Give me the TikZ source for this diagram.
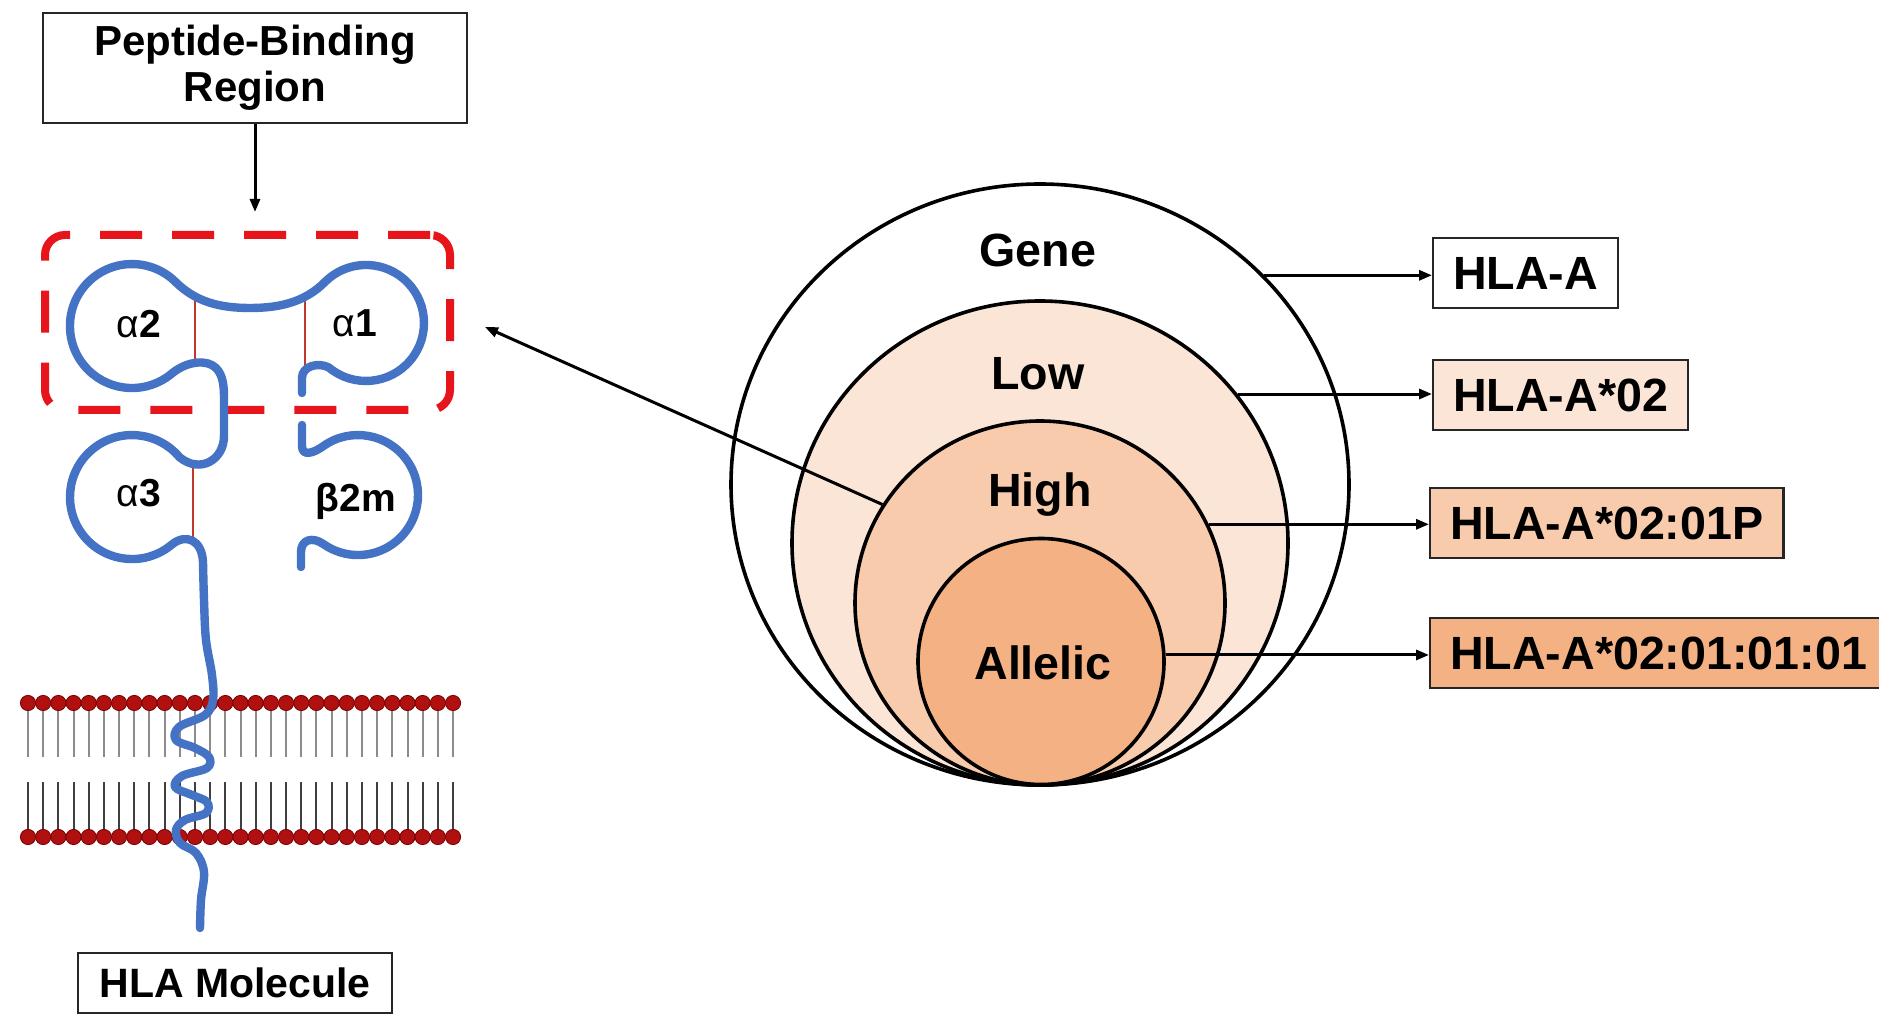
\documentclass[tikz,border=0pt]{standalone}
\usepackage{fontspec}
\setmainfont{Liberation Sans}
\usetikzlibrary{shapes.geometric,arrows.meta}

\definecolor{chainblue}{HTML}{4472C4}
\definecolor{framered}{HTML}{E8141C}
\definecolor{bondred}{HTML}{C0392B}
\definecolor{headred}{HTML}{B01010}
\definecolor{headedge}{HTML}{7A0000}
\definecolor{lowfill}{HTML}{FBE5D6}
\definecolor{highfill}{HTML}{F8CBAD}
\definecolor{allelefill}{HTML}{F4B183}

\begin{document}
\begin{tikzpicture}[x=0.5pt,y=-0.5pt,
  backbone/.style={draw=chainblue,line width=4.2pt,line cap=round,line join=round},
  ssbond/.style={draw=bondred,line width=0.9pt},
  bindframe/.style={draw=framered,line width=4pt,dash pattern=on 21pt off 15pt,rounded corners=10pt,inner sep=0pt},
  lipidtail/.style={line width=1pt},
  lipidhead/.style={fill=headred,draw=headedge,line width=0.4pt},
  tier/.style={ellipse,draw=black,line width=1.8pt,inner sep=0pt},
  tiertext/.style={anchor=base,font=\bfseries\fontsize{23.3}{28}\selectfont},
  allelebox/.style={draw=black!85,line width=1.1pt,anchor=west,minimum height=35pt,inner xsep=10pt,inner ysep=0pt,font=\bfseries\fontsize{23.3}{28}\selectfont},
  titlebox/.style={draw=black!85,line width=1pt,inner sep=0pt,align=center,font=\bfseries\fontsize{21}{23}\selectfont},
  domlabel/.style={anchor=base,font=\bfseries\fontsize{19.5}{22}\selectfont},
  pointer/.style={draw=black,line width=1.5pt,-{Triangle[length=6.5pt,width=5pt]}}
]
\useasboundingbox (0,0) rectangle (1879,1015);
\fill[white] (0,0) rectangle (1879,1015);

% ---------- nested resolution levels ----------
\node[tier,fill=white,minimum width=309pt,minimum height=300.5pt] (gene) at (1040,484.5) {};
\node[tier,fill=lowfill,minimum width=248pt,minimum height=242pt] (low) at (1040,543) {};
\node[tier,fill=highfill,minimum width=185pt,minimum height=182pt] (high) at (1040,603) {};
\node[tier,fill=allelefill,minimum width=123pt,minimum height=123pt] (allelic) at (1041,661.5) {};

\node[tiertext] (genetxt) at (1038,267) {Gene};
\node[tiertext] (lowtxt) at (1038,390) {Low};
\node[tiertext] (hightxt) at (1040,507) {High};
\node[tiertext] (alleletxt) at (1043,679) {Allelic};

% ---------- nomenclature examples ----------
\node[allelebox,fill=white] (hlaA) at (1432,273) {HLA-A};
\node[allelebox,fill=lowfill] (hlaLow) at (1432,395) {HLA-A*02};
\node[allelebox,fill=highfill] (hlaHigh) at (1429,523) {HLA-A*02:01P};
\node[allelebox,fill=allelefill] (hlaAllelic) at (1429,653) {HLA-A*02:01:01:01};

\draw[pointer] (gene.43.6) -- (gene.43.6 -| hlaA.west);
\draw[pointer] (low.37) -- (low.37 -| hlaLow.west);
\draw[pointer] (high.25) -- (high.25 -| hlaHigh.west);
\draw[pointer] (allelic.3.5) -- (allelic.3.5 -| hlaAllelic.west);

% ---------- HLA molecule ----------
\node[titlebox,minimum width=212pt,minimum height=55pt] (pbrlabel) at (255,68) {Peptide-Binding\\Region};
\coordinate (pbrtop) at (255,212);
\draw[pointer] (pbrlabel.south) -- (pbrtop);

% lipid bilayer
\foreach \i in {0,...,28}{
  \draw[lipidtail,black!45] ({28+15.18*\i},703) -- ({28+15.18*\i},757);
  \draw[lipidtail,black!75] ({28+15.18*\i},782) -- ({28+15.18*\i},837);
}
\foreach \i in {0,...,28}{
  \path[lipidhead] ({28+15.18*\i},703) circle[radius=7.6];
  \path[lipidhead] ({28+15.18*\i},837) circle[radius=7.6];
}

% peptide-binding region outline
\node[bindframe,minimum width=202.5pt,minimum height=87.5pt] (pbr) at (247.5,322.5) {};

% disulfide bonds
\draw[ssbond] (195,298) -- (195,364);
\draw[ssbond] (305,297) -- (305,367);
\draw[ssbond] (193,468) -- (193,537);

% heavy chain: alpha1 -> alpha2 -> alpha3 -> transmembrane tail
\draw[backbone] (302,393) -- (302,378) .. controls (302,366) and (318,362) .. (328.7,367.4)
  arc[start angle=130,end angle=-135,radius=58]
  .. controls (305,302) and (280,308) .. (250,308)
  .. controls (220,308) and (196,302) .. (175.8,282.2)
  arc[start angle=-45,end angle=-310,radius=62]
  .. controls (187,361) and (207,359) .. (216,368)
  .. controls (223,375) and (224,386) .. (224,398) -- (224,436)
  .. controls (224,460) and (200,474) .. (179.5,457.2)
  arc[start angle=-40,end angle=-310,radius=62]
  .. controls (186,533) and (202,540) .. (203,562)
  -- plot[smooth,tension=0.6] coordinates {(203,562) (204,600) (206,640) (212,675) (213,700)
     (205,715) (179,727) (176,740) (195,748) (209,757) (207,768) (182,776) (175,787)
     (192,795) (207,802) (206,813) (185,820) (176,830) (180,843) (196,853) (204,872)
     (201,900) (200,928)};

% beta-2 microglobulin
\draw[backbone] (302,425) -- (302,446) .. controls (302,457) and (314,453) .. (323.6,445.9)
  arc[start angle=-125,end angle=125,radius=60]
  .. controls (312,536) and (301,540) .. (301,552) -- (301,567);

\node[domlabel] (a2) at (139,338) {\textmd{α}2};
\node[domlabel] (a1) at (355,337) {\textmd{α}1};
\node[domlabel] (a3) at (139,507) {\textmd{α}3};
\node[domlabel] (b2m) at (356,512) {β2m};

\node[titlebox,minimum width=157pt,minimum height=30pt,font=\bfseries\fontsize{20.5}{24}\selectfont] (mol) at (235,983) {HLA Molecule};

% high-resolution typing targets the binding region
\coordinate (pbrtip) at (485,327);
\draw[pointer] (high.148.5) -- (pbrtip);

\end{tikzpicture}
\end{document}
